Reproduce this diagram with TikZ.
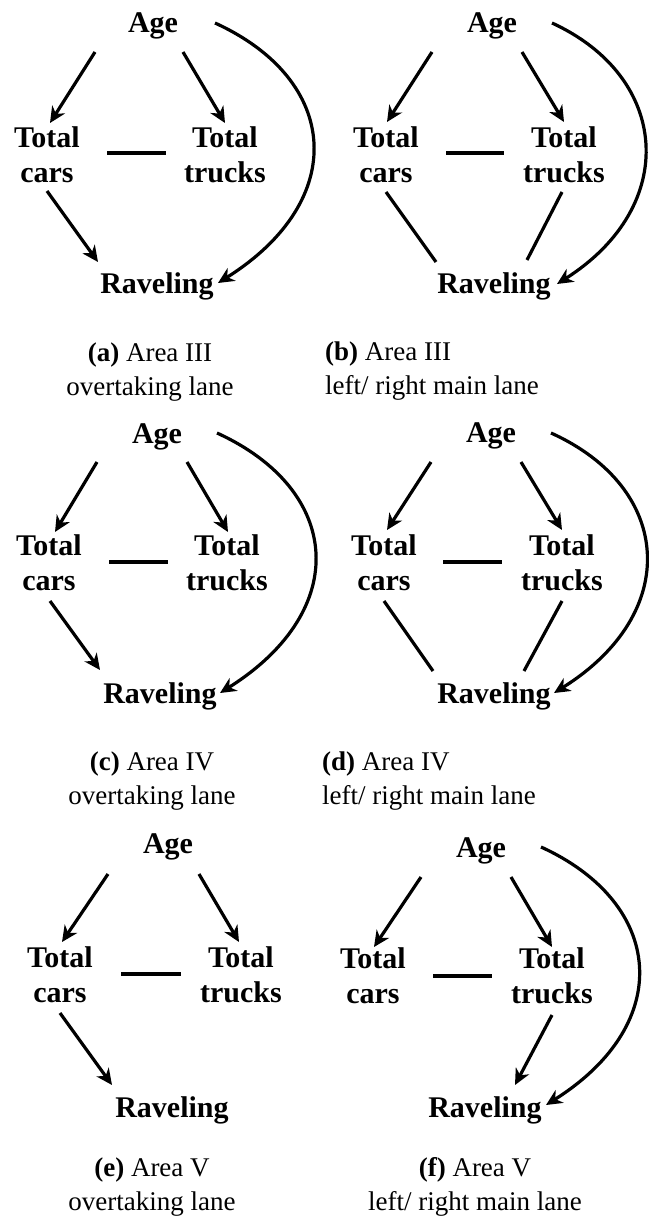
\documentclass[tikz,border=0pt]{standalone}
\usepackage{fontspec}
\setmainfont{Liberation Serif}
\usetikzlibrary{arrows.meta}
\newcommand\mytwoc[1]{\begin{tabular}[t]{@{}c@{}}#1\end{tabular}}
\newcommand\mytwol[1]{\begin{tabular}[t]{@{}l@{}}#1\end{tabular}}
\begin{document}
\begin{tikzpicture}[x=1pt,y=-1pt,
 lbl/.style={anchor=base, inner sep=0pt, font=\fontsize{30}{35}\selectfont\bfseries},
 captxt/.style={anchor=base, inner sep=0pt, font=\fontsize{27}{34}\selectfont},
 captl/.style={captxt, anchor=base west},
 lnk/.style={line width=3.2pt},
 arr/.style={lnk, -{Stealth[length=16pt,width=15pt,inset=5pt]}}]
\fill[white] (0,0) rectangle (648,1220);
\useasboundingbox (0,0) rectangle (648,1220);

% ---------- (a)
\node[lbl] (a-age) at (153,33) {Age};
\node[lbl] (a-cars) at (47,147) {\mytwoc{Total\\cars}};
\node[lbl] (a-trucks) at (225,147) {\mytwoc{Total\\trucks}};
\node[lbl] (a-rav) at (157,293) {Raveling};
\draw[arr] ([shift={(-58,19)}]a-age.base) -- ([shift={(3,-24)}]a-cars.base);
\draw[arr] ([shift={(30,19)}]a-age.base) -- ([shift={(0,-24)}]a-trucks.base);
\draw[lnk] ([shift={(60,6)}]a-cars.base) -- ([shift={(-59,6)}]a-trucks.base);
\draw[arr] ([shift={(0,44)}]a-cars.base) -- ([shift={(-59,-31)}]a-rav.base);
\draw[arr] ([shift={(62,-10)}]a-age.base) .. controls +(125,57) and +(132,-83) .. ([shift={(61,-10)}]a-rav.base);
\node[captxt] (a-cap) at (150,361) {\mytwoc{\textbf{(a)} Area III\\overtaking lane}};

% ---------- (b)
\node[lbl] (b-age) at (492,33) {Age};
\node[lbl] (b-cars) at (386,147) {\mytwoc{Total\\cars}};
\node[lbl] (b-trucks) at (564,147) {\mytwoc{Total\\trucks}};
\node[lbl] (b-rav) at (494,293) {Raveling};
\draw[arr] ([shift={(-60,19)}]b-age.base) -- ([shift={(1,-25)}]b-cars.base);
\draw[arr] ([shift={(30,19)}]b-age.base) -- ([shift={(0,-25)}]b-trucks.base);
\draw[lnk] ([shift={(60,6)}]b-cars.base) -- ([shift={(-60,6)}]b-trucks.base);
\draw[lnk] ([shift={(0,45)}]b-cars.base) -- ([shift={(-58,-31)}]b-rav.base);
\draw[lnk] ([shift={(-2,45)}]b-trucks.base) -- ([shift={(33,-33)}]b-rav.base);
\draw[arr] ([shift={(60,-10)}]b-age.base) .. controls +(118,54) and +(123,-78) .. ([shift={(63,-9)}]b-rav.base);
\node[captl] (b-cap) at (325,360) {\mytwol{\textbf{(b)} Area III\\left/ right main lane}};

% ---------- (c)
\node[lbl] (c-age) at (157,443) {Age};
\node[lbl] (c-cars) at (49,555) {\mytwoc{Total\\cars}};
\node[lbl] (c-trucks) at (227,555) {\mytwoc{Total\\trucks}};
\node[lbl] (c-rav) at (160,703) {Raveling};
\draw[arr] ([shift={(-60,19)}]c-age.base) -- ([shift={(6,-23)}]c-cars.base);
\draw[arr] ([shift={(30,19)}]c-age.base) -- ([shift={(1,-23)}]c-trucks.base);
\draw[lnk] ([shift={(60,7)}]c-cars.base) -- ([shift={(-59,7)}]c-trucks.base);
\draw[arr] ([shift={(1,46)}]c-cars.base) -- ([shift={(-60,-33)}]c-rav.base);
\draw[arr] ([shift={(60,-10)}]c-age.base) .. controls +(125,57) and +(132,-83) .. ([shift={(60,-10)}]c-rav.base);
\node[captxt] (c-cap) at (152,770) {\mytwoc{\textbf{(c)} Area IV\\overtaking lane}};

% ---------- (d)
\node[lbl] (d-age) at (491,442) {Age};
\node[lbl] (d-cars) at (384,555) {\mytwoc{Total\\cars}};
\node[lbl] (d-trucks) at (562,555) {\mytwoc{Total\\trucks}};
\node[lbl] (d-rav) at (494,703) {Raveling};
\draw[arr] ([shift={(-60,20)}]d-age.base) -- ([shift={(3,-25)}]d-cars.base);
\draw[arr] ([shift={(30,20)}]d-age.base) -- ([shift={(0,-25)}]d-trucks.base);
\draw[lnk] ([shift={(59,7)}]d-cars.base) -- ([shift={(-60,7)}]d-trucks.base);
\draw[lnk] ([shift={(0,46)}]d-cars.base) -- ([shift={(-61,-32)}]d-rav.base);
\draw[lnk] ([shift={(0,46)}]d-trucks.base) -- ([shift={(30,-32)}]d-rav.base);
\draw[arr] ([shift={(60,-9)}]d-age.base) .. controls +(122,55) and +(128,-80) .. ([shift={(60,-10)}]d-rav.base);
\node[captl] (d-cap) at (322,770) {\mytwol{\textbf{(d)} Area IV\\left/ right main lane}};

% ---------- (e)
\node[lbl] (e-age) at (168,853) {Age};
\node[lbl] (e-cars) at (60,967) {\mytwoc{Total\\cars}};
\node[lbl] (e-trucks) at (241,967) {\mytwoc{Total\\trucks}};
\node[lbl] (e-rav) at (172,1117) {Raveling};
\draw[arr] ([shift={(-60,21)}]e-age.base) -- ([shift={(2,-25)}]e-cars.base);
\draw[arr] ([shift={(31,21)}]e-age.base) -- ([shift={(-2,-25)}]e-trucks.base);
\draw[lnk] ([shift={(61,7)}]e-cars.base) -- ([shift={(-60,7)}]e-trucks.base);
\draw[arr] ([shift={(0,46)}]e-cars.base) -- ([shift={(-60,-32)}]e-rav.base);
\node[captxt] (e-cap) at (152,1176) {\mytwoc{\textbf{(e)} Area V\\overtaking lane}};

% ---------- (f)
\node[lbl] (f-age) at (481,857) {Age};
\node[lbl] (f-cars) at (373,968) {\mytwoc{Total\\cars}};
\node[lbl] (f-trucks) at (552,968) {\mytwoc{Total\\trucks}};
\node[lbl] (f-rav) at (485,1117) {Raveling};
\draw[arr] ([shift={(-60,20)}]f-age.base) -- ([shift={(1,-21)}]f-cars.base);
\draw[arr] ([shift={(30,20)}]f-age.base) -- ([shift={(0,-21)}]f-trucks.base);
\draw[lnk] ([shift={(60,8)}]f-cars.base) -- ([shift={(-60,8)}]f-trucks.base);
\draw[arr] ([shift={(0,47)}]f-trucks.base) -- ([shift={(30,-32)}]f-rav.base);
\draw[arr] ([shift={(60,-10)}]f-age.base) .. controls +(123,56) and +(130,-82) .. ([shift={(61,-12)}]f-rav.base);
\node[captxt] (f-cap) at (475,1176) {\mytwoc{\textbf{(f)} Area V\\left/ right main lane}};
\end{tikzpicture}
\end{document}
